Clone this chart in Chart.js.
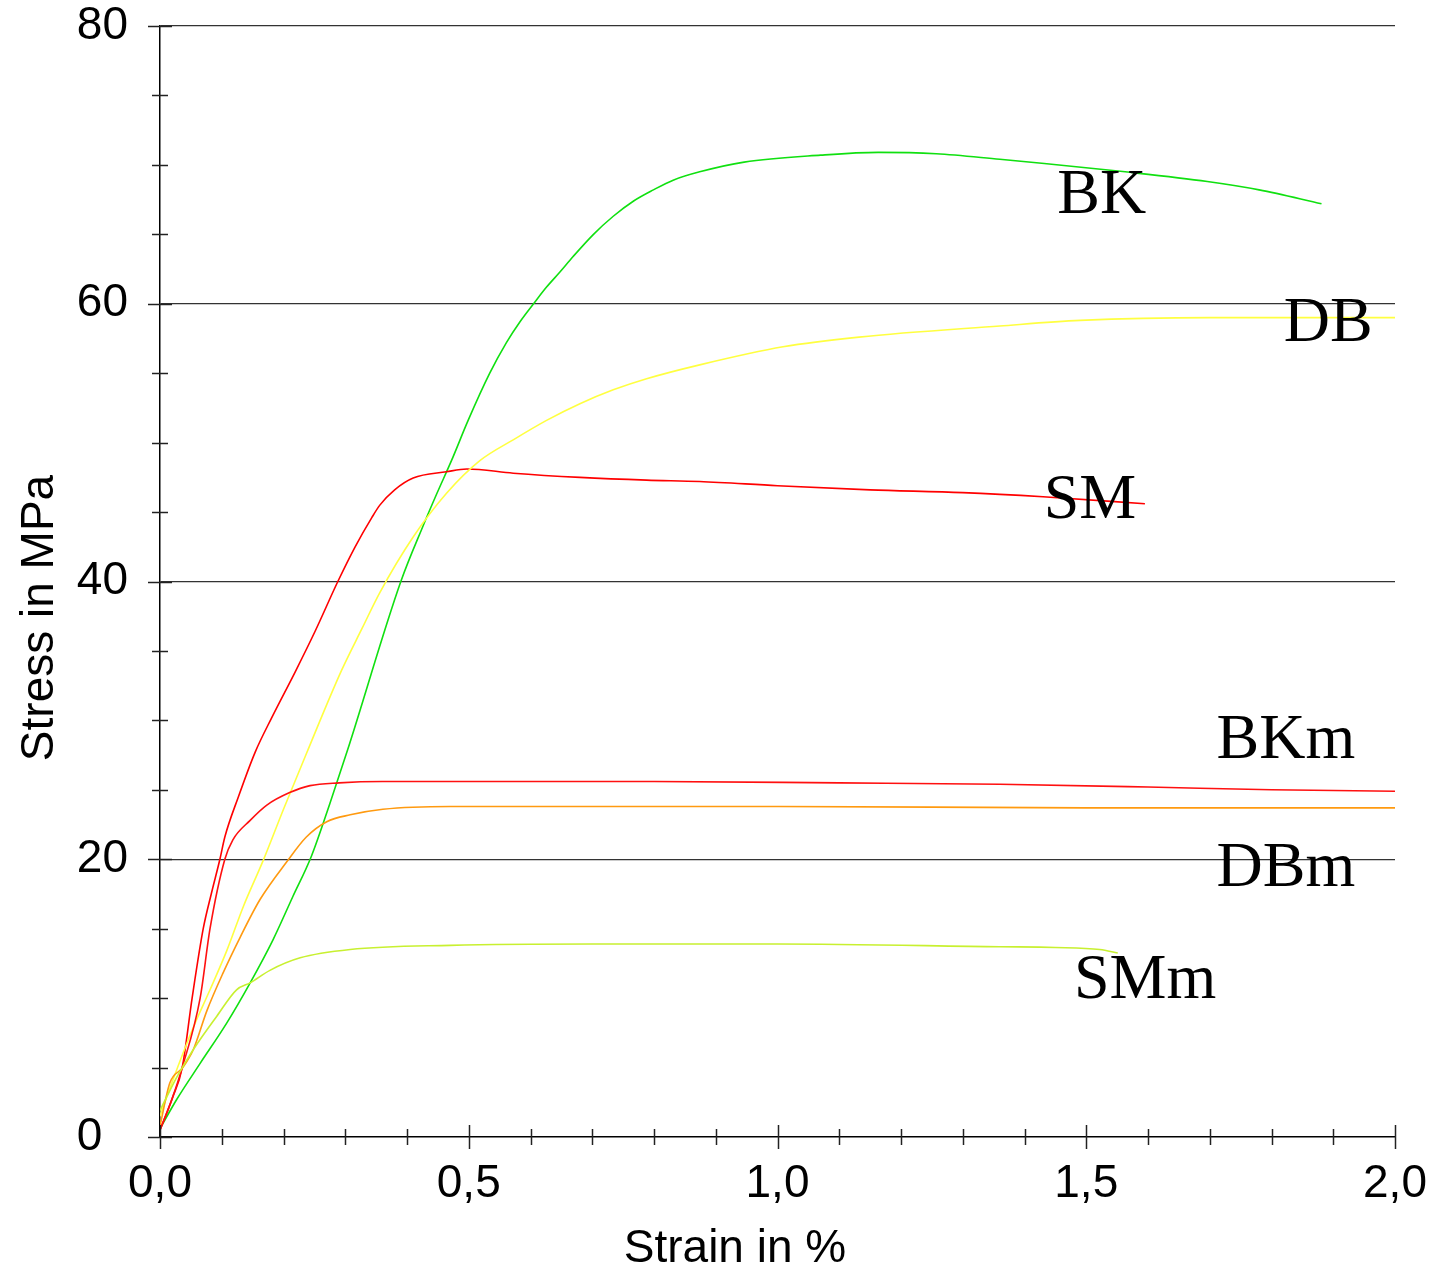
<!DOCTYPE html>
<html>
<head>
<meta charset="utf-8">
<script src="https://cdn.jsdelivr.net/npm/chart.js@4.4.1/dist/chart.umd.min.js"></script>
<style>
  html, body { margin: 0; padding: 0; background: #fff; }
  #wrap { width: 1434px; height: 1270px; }
</style>
</head>
<body>
<div id="wrap"><canvas id="grafico" width="1434" height="1270"></canvas></div>
<script>
// strain in %, stress in MPa
const bkStrain = [0, 0.027, 0.065, 0.108, 0.146, 0.183, 0.215, 0.245, 0.275, 0.304, 0.390, 0.426, 0.448, 0.472, 0.499, 0.534, 0.561, 0.583, 0.605, 0.626, 0.648, 0.669, 0.702, 0.734, 0.767, 0.799, 0.831, 0.874, 0.946, 1.07, 1.163, 1.257, 1.36, 1.432, 1.563, 1.696, 1.78, 1.881];
const bkStress = [0.6, 2.7, 5.3, 8.2, 11.1, 14.2, 17.3, 20.2, 24.0, 27.9, 40.0, 44.0, 46.3, 48.7, 51.6, 55.0, 57.2, 58.7, 60.0, 61.2, 62.3, 63.4, 65.0, 66.3, 67.4, 68.2, 68.9, 69.5, 70.2, 70.7, 70.9, 70.8, 70.4, 70.1, 69.5, 68.8, 68.2, 67.2];

const dbStrain = [0, 0.02, 0.054, 0.081, 0.108, 0.135, 0.167, 0.2, 0.237, 0.294, 0.327, 0.356, 0.41, 0.464, 0.518, 0.572, 0.626, 0.68, 0.734, 0.788, 0.874, 1.009, 1.132, 1.36, 1.49, 1.7, 2.0];
const dbStress = [1.5, 4, 7.9, 10.6, 13.4, 16.6, 19.9, 23.6, 27.6, 33.6, 36.6, 39.2, 43.2, 46.35, 48.7, 50.2, 51.6, 52.8, 53.8, 54.6, 55.6, 56.9, 57.6, 58.4, 58.8, 59, 59];

const smStrain = [0, 0.02, 0.036, 0.052, 0.07, 0.083, 0.097, 0.105, 0.127, 0.154, 0.181, 0.219, 0.251, 0.288, 0.316, 0.343, 0.356, 0.38, 0.41, 0.464, 0.497, 0.572, 0.68, 0.788, 0.874, 1.0, 1.15, 1.3, 1.43, 1.595];
const smStress = [0.5, 2.8, 5, 10, 15, 17.5, 20, 21.6, 24.5, 27.7, 30.2, 33.5, 36.4, 40, 42.5, 44.6, 45.5, 46.6, 47.45, 47.9, 48.1, 47.8, 47.5, 47.3, 47.2, 46.9, 46.6, 46.4, 46.1, 45.6];

const bkmStrain = [0, 0.02, 0.036, 0.065, 0.081, 0.105, 0.118, 0.146, 0.173, 0.21, 0.243, 0.29, 0.36, 0.5, 0.8, 1.1, 1.36, 1.6, 1.8, 2.0];
const bkmStress = [0.5, 2.8, 5, 10, 15, 20, 21.4, 22.8, 23.9, 24.8, 25.3, 25.5, 25.6, 25.6, 25.6, 25.5, 25.4, 25.2, 25.0, 24.9];

const dbmStrain = [0, 0.016, 0.037, 0.054, 0.076, 0.102, 0.13, 0.162, 0.205, 0.237, 0.27, 0.308, 0.361, 0.47, 1.0, 1.5, 2.0];
const dbmStress = [0.8, 3.9, 5, 6.3, 9.1, 11.8, 14.4, 17.1, 19.8, 21.6, 22.7, 23.2, 23.6, 23.8, 23.8, 23.7, 23.7];

const smmStrain = [0, 0.011, 0.027, 0.054, 0.092, 0.124, 0.146, 0.178, 0.227, 0.308, 0.47, 0.7, 1.0, 1.36, 1.45, 1.522, 1.551];
const smmStress = [1.9, 2.9, 4.3, 6.3, 8.7, 10.6, 11.1, 12.0, 12.9, 13.5, 13.8, 13.9, 13.9, 13.7, 13.65, 13.5, 13.25];

const xTickLabels = ['0,0', '0,5', '1,0', '1,5', '2,0'];
const yTickLabels = ['0', '20', '40', '60', '80'];

// curve names written next to the curves (strain, stress)
const curveNames = ['BK', 'DB', 'SM', 'BKm', 'DBm', 'SMm'];
const nameStrain = [1.453, 1.820, 1.431, 1.711, 1.711, 1.480];
const nameStress = [66.5, 57.3, 44.6, 27.3, 18.1, 10.0];

function pontos(xs, ys) {
  return xs.map((x, i) => ({ x: x, y: ys[i] }));
}

function serie(xs, ys, cor) {
  return {
    data: pontos(xs, ys),
    borderColor: cor,
    borderWidth: 1.6,
    pointRadius: 0,
    fill: false,
    cubicInterpolationMode: 'monotone'
  };
}

function semSobra(s) {
  s.paddingTop = 0; s.paddingBottom = 0;
  s.paddingLeft = 0; s.paddingRight = 0;
}

const marcas = {
  id: 'marcas',
  afterDraw(chart) {
    const c = chart.ctx;
    const xs = chart.scales.x, ys = chart.scales.y;
    const x0 = xs.getPixelForValue(0), y0 = ys.getPixelForValue(0);
    c.save();
    c.strokeStyle = '#222';
    c.lineWidth = 1.5;
    for (let v = 0; v <= 80; v += 5) {
      const y = Math.round(ys.getPixelForValue(v)) + 0.5;
      const l = v % 20 === 0 ? 12 : 8;
      c.beginPath(); c.moveTo(x0 - l, y); c.lineTo(x0 + l, y); c.stroke();
    }
    for (let i = 0; i <= 20; i++) {
      const x = Math.round(xs.getPixelForValue(i / 10)) + 0.5;
      const l = i % 5 === 0 ? 12 : 8;
      c.beginPath(); c.moveTo(x, y0 - l); c.lineTo(x, y0 + l); c.stroke();
    }
    // axis titles
    c.fillStyle = '#000';
    c.font = '46px "Liberation Sans", Arial, sans-serif';
    c.textAlign = 'center';
    c.textBaseline = 'alphabetic';
    c.fillText('Strain in %', 735, 1262);
    c.translate(53, 618);
    c.rotate(-Math.PI / 2);
    c.fillText('Stress in MPa', 0, 0);
    c.restore();

    // curve names
    c.save();
    c.fillStyle = '#000';
    c.font = '64px "Liberation Serif", "Times New Roman", serif';
    c.textAlign = 'left';
    c.textBaseline = 'alphabetic';
    curveNames.forEach((n, i) => {
      c.fillText(n, xs.getPixelForValue(nameStrain[i]), ys.getPixelForValue(nameStress[i]));
    });
    c.restore();
  }
};

const ctx = document.getElementById('grafico').getContext('2d');
new Chart(ctx, {
  type: 'line',
  data: {
    datasets: [
      serie(smmStrain, smmStress, '#c8f030'),
      serie(dbmStrain, dbmStress, '#ff9a10'),
      serie(bkmStrain, bkmStress, '#ff1010'),
      serie(dbStrain, dbStress, '#ffff40'),
      serie(smStrain, smStress, '#ff0000'),
      serie(bkStrain, bkStress, '#10e010')
    ]
  },
  options: {
    responsive: false,
    animation: false,
    layout: { padding: { top: 26, right: 39, left: 0, bottom: 0 } },
    plugins: {
      legend: { display: false },
      tooltip: { enabled: false }
    },
    scales: {
      x: {
        type: 'linear',
        min: 0,
        max: 2,
        afterFit(s) { s.height = 133; semSobra(s); },
        grid: { drawOnChartArea: false, drawTicks: false },
        border: { display: true, color: '#000', width: 1.5 },
        ticks: {
          stepSize: 0.1,
          autoSkip: false,
          maxRotation: 0,
          padding: 20,
          color: '#000',
          font: { family: '"Liberation Sans", Arial, sans-serif', size: 46 },
          callback: v => {
            const k = Math.round(v * 10);
            return k % 5 === 0 ? xTickLabels[k / 5] : '';
          }
        }
      },
      y: {
        min: 0,
        max: 80,
        afterFit(s) { s.width = 160; semSobra(s); },
        grid: {
          drawTicks: false,
          lineWidth: 1.2,
          color: c => (c.tick && c.tick.value % 20 === 0 && c.tick.value > 0) ? '#333' : 'rgba(0,0,0,0)'
        },
        border: { display: true, color: '#000', width: 1.5 },
        ticks: {
          stepSize: 5,
          autoSkip: false,
          padding: 32,
          color: '#000',
          font: { family: '"Liberation Sans", Arial, sans-serif', size: 46 },
          // the zero sits one digit further left in the original
          callback: v => (v % 20 === 0 ? yTickLabels[v / 20] + (v === 0 ? '\u00a0\u00a0' : '') : '')
        }
      }
    }
  },
  plugins: [marcas]
});
</script>
</body>
</html>
